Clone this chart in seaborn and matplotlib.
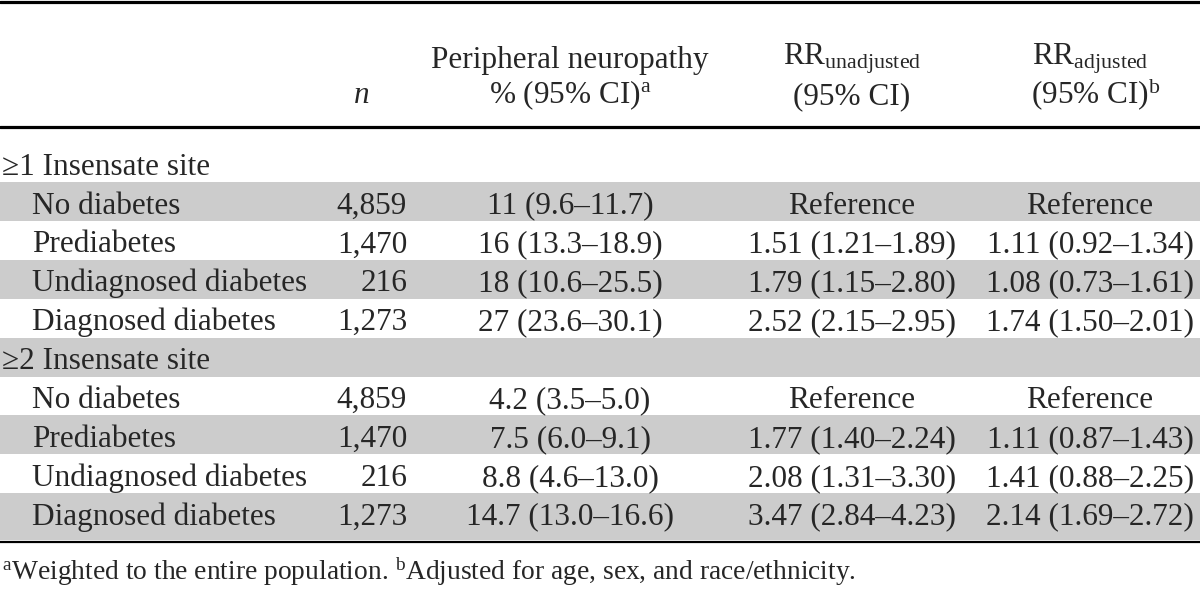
import seaborn as sns
import matplotlib.pyplot as plt

# table content
groups = ["≥1 Insensate site", "≥2 Insensate site"]
categories = ["No diabetes", "Prediabetes", "Undiagnosed diabetes", "Diagnosed diabetes"]
n_values = ["4,859", "1,470", "216", "1,273"]

neuro_1 = ["11 (9.6–11.7)", "16 (13.3–18.9)", "18 (10.6–25.5)", "27 (23.6–30.1)"]
rr_unadj_1 = ["Reference", "1.51 (1.21–1.89)", "1.79 (1.15–2.80)", "2.52 (2.15–2.95)"]
rr_adj_1 = ["Reference", "1.11 (0.92–1.34)", "1.08 (0.73–1.61)", "1.74 (1.50–2.01)"]

neuro_2 = ["4.2 (3.5–5.0)", "7.5 (6.0–9.1)", "8.8 (4.6–13.0)", "14.7 (13.0–16.6)"]
rr_unadj_2 = ["Reference", "1.77 (1.40–2.24)", "2.08 (1.31–3.30)", "3.47 (2.84–4.23)"]
rr_adj_2 = ["Reference", "1.11 (0.87–1.43)", "1.41 (0.88–2.25)", "2.14 (1.69–2.72)"]

footnote = (r"$^{\mathrm{a}}$Weighted to the entire population. "
            r"$^{\mathrm{b}}$Adjusted for age, sex, and race/ethnicity.")

sns.set_theme(style="white")
plt.rcParams['font.family'] = ['Liberation Serif', 'DejaVu Serif']
plt.rcParams['mathtext.fontset'] = 'custom'
plt.rcParams['mathtext.rm'] = 'Liberation Serif'
plt.rcParams['mathtext.it'] = 'Liberation Serif:italic'

FS = 22.5
SHADE = "#cccccc"

fig = plt.figure(figsize=(12, 5.9), dpi=100)
ax = fig.add_axes([0, 0, 1, 1])
ax.set_xlim(0, 1200)
ax.set_ylim(590, 0)
ax.axis('off')

# column anchors
x_label, x_indent, x_n = 2, 32, 407
x_neuro, x_unadj, x_adj = 570, 852, 1090

# rules
ax.axhline(1.5, color="black", lw=2.3)
ax.axhline(126.5, color="black", lw=2.3)
ax.axhline(542, color="black", lw=1.6)

# header
ax.text(x_n - 45, 103, "n", fontsize=FS, style="italic", ha="center", va="baseline")
ax.text(x_neuro, 68, "Peripheral neuropathy", fontsize=FS, ha="center", va="baseline")
ax.text(x_neuro, 103, r"% (95% CI)$^{\mathrm{a}}$", fontsize=FS, ha="center", va="baseline")
ax.text(x_unadj, 65, r"RR$_{\mathrm{unadjusted}}$", fontsize=FS, ha="center", va="baseline")
ax.text(x_unadj, 104, "(95% CI)", fontsize=FS, ha="center", va="baseline")
ax.text(x_adj, 65, r"RR$_{\mathrm{adjusted}}$", fontsize=FS, ha="center", va="baseline")
ax.text(x_adj + 6, 104, r"(95% CI)$^{\mathrm{b}}$", fontsize=FS, ha="center", va="baseline")

# body rows
row_h = 38.9
row0 = 162.6
rows = []
for g, (nv, ru, ra) in zip(groups, [(neuro_1, rr_unadj_1, rr_adj_1),
                                     (neuro_2, rr_unadj_2, rr_adj_2)]):
    rows.append((g, None, None, None, None))
    for cat, n, a, b, c in zip(categories, n_values, nv, ru, ra):
        rows.append((cat, n, a, b, c))

for r, (lab, n, a, b, c) in enumerate(rows):
    cy = row0 + row_h * r
    if r % 2 == 1:
        bottom = cy + row_h / 2
        if r == len(rows) - 1:
            bottom = 540
        ax.axhspan(cy - row_h / 2, bottom, color=SHADE, lw=0, zorder=0)
    base = cy + 12
    if n is None:
        ax.text(x_label, base, lab, fontsize=FS, ha="left", va="baseline")
        continue
    ax.text(x_indent, base, lab, fontsize=FS, ha="left", va="baseline")
    ax.text(x_n, base, n, fontsize=FS, ha="right", va="baseline")
    ax.text(x_neuro, base, a, fontsize=FS, ha="center", va="baseline")
    ax.text(x_unadj, base, b, fontsize=FS, ha="center", va="baseline")
    ax.text(x_adj, base, c, fontsize=FS, ha="center", va="baseline")

ax.text(2, 580, footnote, fontsize=FS * 0.88, ha="left", va="baseline")

plt.savefig("out.png", dpi=100)
